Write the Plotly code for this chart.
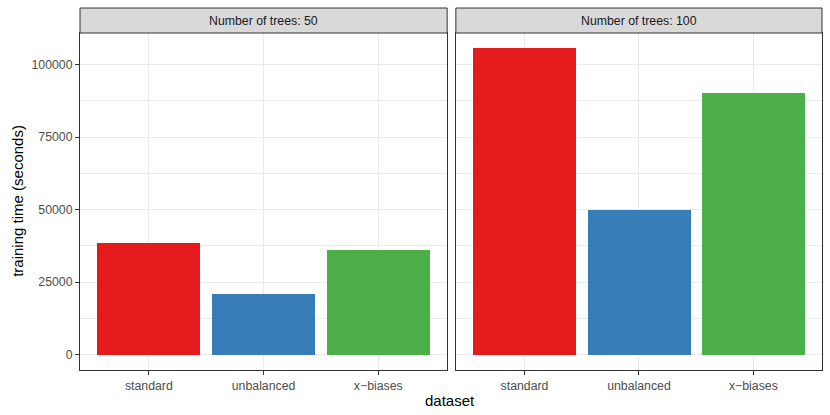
import plotly.graph_objects as go

categories = ["standard", "unbalanced", "x\u2212biases"]
trees_50 = [38400, 20800, 36100]
trees_100 = [105600, 49900, 90100]
panel_titles = ["Number of trees: 50", "Number of trees: 100"]
bar_colors = ["#E41A1C", "#377EB8", "#4DAF4A"]
y_ticks = [0, 25000, 50000, 75000, 100000]

W, H = 830, 415
L, R, T, B = 80, 8.3, 33, 44.7
pw = W - L - R
ph = H - T - B
left_end = (447 - L) / pw
right_start = (455.7 - L) / pw

fig = go.Figure()
for i, vals in enumerate([trees_50, trees_100]):
    fig.add_trace(go.Bar(
        x=categories, y=vals, width=0.9,
        marker=dict(color=bar_colors, line=dict(width=0)),
        xaxis="x" if i == 0 else "x2", yaxis="y" if i == 0 else "y2",
        showlegend=False,
    ))

font = "Liberation Sans, Arial, sans-serif"
tick_size = 12.3
yr = [-5280, 110880]
xr = [-0.6, 2.6]
common_x = dict(type="category", range=xr, showline=True, mirror=True, linecolor="#333333", linewidth=1,
                showgrid=True, gridcolor="#EBEBEB", gridwidth=1, ticks="outside", ticklen=4,
                tickcolor="#333333", tickwidth=1, tickfont=dict(family=font, size=tick_size, color="#4D4D4D"),
                zeroline=False, fixedrange=True, automargin=False)
common_y = dict(range=yr, showline=True, mirror=True, linecolor="#333333", linewidth=1,
                showgrid=True, gridcolor="#EBEBEB", gridwidth=1, tickvals=y_ticks, tickformat="d",
                minor=dict(tickvals=[12500, 37500, 62500, 87500], showgrid=True, gridcolor="#EBEBEB", gridwidth=0.5, ticks=""),
                zeroline=False, fixedrange=True, automargin=False)
fig.update_layout(
    width=W, height=H, margin=dict(l=L, r=R, t=T, b=B),
    paper_bgcolor="white", plot_bgcolor="white", bargap=0,
    xaxis=dict(domain=[0, left_end], anchor="y", **common_x),
    xaxis2=dict(domain=[right_start, 1], anchor="y2", **common_x),
    yaxis=dict(domain=[0, 1], anchor="x", ticks="outside", ticklen=4, tickcolor="#333333", tickwidth=1,
               tickfont=dict(family=font, size=tick_size, color="#4D4D4D"), **common_y),
    yaxis2=dict(domain=[0, 1], anchor="x2", showticklabels=False, ticks="", **common_y),
)

strip_h = 25 / ph
for (x0, x1), title in zip([(0, left_end), (right_start, 1)], panel_titles):
    fig.add_shape(type="rect", xref="paper", yref="paper", x0=x0, x1=x1, y0=1, y1=1 + strip_h,
                  fillcolor="#D9D9D9", line=dict(color="#333333", width=1))
    fig.add_annotation(xref="paper", yref="paper", x=(x0 + x1) / 2, y=1 + strip_h / 2,
                       text=title, showarrow=False, font=dict(family=font, size=tick_size, color="#1A1A1A"),
                       xanchor="center", yanchor="middle")

fig.add_annotation(xref="paper", yref="paper", x=(450 - L) / pw, y=-(401 - (T + ph)) / ph,
                   text="dataset", showarrow=False, font=dict(family=font, size=15, color="black"),
                   xanchor="center", yanchor="middle")
fig.add_annotation(xref="paper", yref="paper", x=-(L - 18) / pw, y=(T + ph - 201) / ph,
                   text="training time (seconds)", textangle=-90, showarrow=False,
                   font=dict(family=font, size=15, color="black"), xanchor="center", yanchor="middle")

fig.write_html("out.html", config={"displayModeBar": False},
               post_script="document.body.style.margin='0';")
